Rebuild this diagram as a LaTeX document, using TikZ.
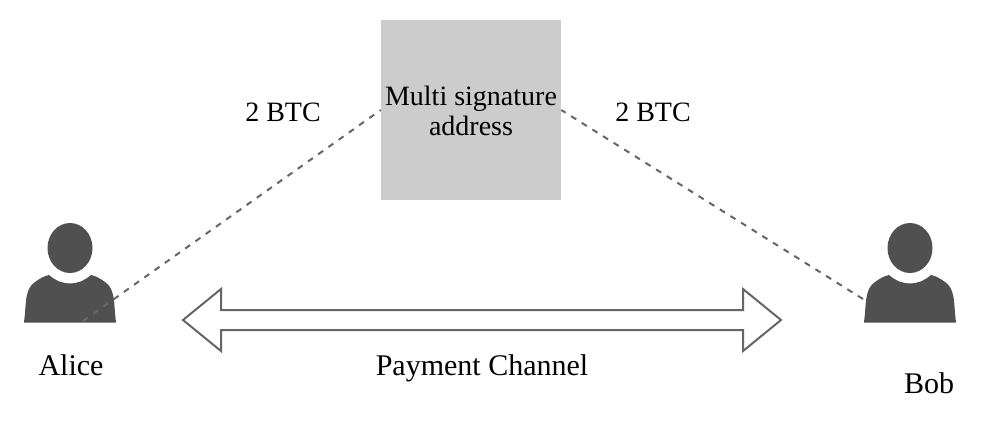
\documentclass[tikz,border=0pt]{standalone}
\usepackage{fontspec}
\setmainfont{Liberation Serif}
\definecolor{ink}{HTML}{505050}
\definecolor{edge}{HTML}{666666}
\definecolor{boxg}{HTML}{CCCCCC}
\tikzset{
  px/.style={x=0.75pt,y=-0.75pt},
  lab/.style={font=\fontsize{21pt}{22.5pt}\selectfont,align=center,text=black,inner sep=0pt},
  biglab/.style={font=\fontsize{22.5pt}{24pt}\selectfont,align=center,text=black,inner sep=0pt},
  dashline/.style={draw=edge,line width=1.5pt,dash pattern=on 4.5pt off 4.9pt},
  person/.pic={
    \fill[ink] (0,0) ellipse [x radius=22.5,y radius=25];
    \fill[ink] (-46,74.5) -- (-45,65) .. controls (-44,52) and (-44,40) .. (-35,34)
      .. controls (-31,31) and (-26,28) .. (-21,27)
      .. controls (-14,33) and (-7,35.5) .. (0,35.5)
      .. controls (7,35.5) and (14,33) .. (21,27)
      .. controls (26,28) and (31,31) .. (35,34)
      .. controls (44,40) and (44,52) .. (45,65) -- (46,74.5) -- cycle;
  }
}
\begin{document}
\begin{tikzpicture}[px]
\useasboundingbox (0,0) rectangle (993,426);
\fill[white] (0,0) rectangle (993,426);
\node[fill=boxg,minimum width=135pt,minimum height=135pt,inner sep=0pt] (ms) at (471,110) {};
\node[lab] (mstext) at (471,111) {Multi signature\\address};
\pic at (70,248) {person};
\pic at (910,248) {person};
\coordinate (a) at (83,321);
\coordinate (b) at (863,299);
\draw[dashline] (a) -- (ms.west);
\draw[dashline] (b) -- (ms.east);
\node[lab] (t1) at (283,112) {2 BTC};
\node[lab] (t2) at (653,112) {2 BTC};
\node[biglab] (alice) at (71,365) {Alice};
\node[biglab] (bob) at (929,383) {Bob};
\node[biglab] (pc) at (482,368) {Payment Channel};
\draw[draw=edge,line width=1.5pt,fill=white,line join=miter] (183,320) -- (221,289) -- (221,310) -- (743,310) -- (743,289) -- (781,320) -- (743,351) -- (743,330) -- (221,330) -- (221,351) -- cycle;
\end{tikzpicture}
\end{document}
